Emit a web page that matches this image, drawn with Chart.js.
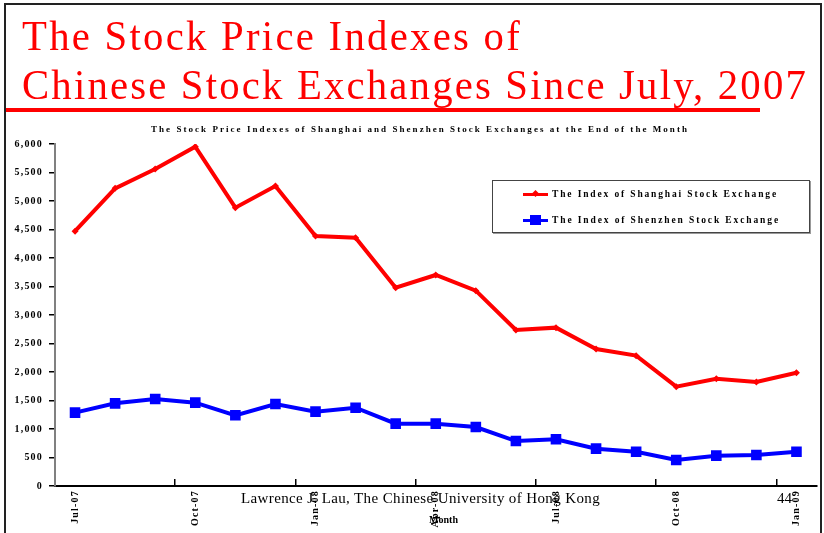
<!DOCTYPE html>
<html><head><meta charset="utf-8">
<script src="https://cdn.jsdelivr.net/npm/chart.js@4/dist/chart.umd.min.js"></script>
<style>
html,body{margin:0;padding:0;background:#fff;}
#wrap{position:relative;width:824px;height:533px;overflow:hidden;background:#fff;}
#c{position:absolute;left:0;top:0;}
.t{position:absolute;white-space:nowrap;font-family:"Liberation Serif","Times New Roman",serif;z-index:2;}
.title{color:#ff0000;font-size:42px;line-height:42px;left:22px;transform:scaleX(0.97);transform-origin:0 0;}
.bold{font-weight:bold;color:#000;}
#frame{position:absolute;left:4px;top:3px;width:818px;height:560px;border:2px solid #222;box-sizing:border-box;z-index:3;pointer-events:none;}
#uline{position:absolute;left:6px;top:108px;width:754px;height:4px;background:#ff0000;z-index:2;}
#legend{position:absolute;left:492px;top:180px;width:318px;height:53px;border:1px solid #444;box-sizing:border-box;background:#fff;z-index:2;box-shadow:1px 1px 0 #999;}
.lrow{position:absolute;left:30px;height:12px;}
.lline{position:absolute;left:0;top:5px;width:25px;height:3px;}
.lmark{position:absolute;}
</style></head>
<body><div id="wrap">
<canvas id="c" width="824" height="533"></canvas>
<div id="frame"></div>
<div class="t title" style="top:15px" data-w="500" data-s="0.97">The Stock Price Indexes of</div>
<div class="t title" style="top:64px" data-w="786" data-s="0.97">Chinese Stock Exchanges Since July, 2007</div>
<div id="uline"></div>
<div class="t bold" style="font-size:9px;line-height:10px;left:151px;top:124px" data-w="538">The Stock Price Indexes of Shanghai and Shenzhen Stock Exchanges at the End of the Month</div>
<div id="legend">
  <div class="lrow" style="top:7px">
    <div class="lline" style="background:#ff0000"></div>
    <div class="lmark" style="left:10px;top:3px;width:5px;height:5px;background:#ff0000;transform:rotate(45deg)"></div>
  </div>
  <div class="t bold" style="font-size:9.5px;line-height:10px;left:59px;top:8px" data-w="226">The Index of Shanghai Stock Exchange</div>
  <div class="lrow" style="top:33px">
    <div class="lline" style="background:#0000ff"></div>
    <div class="lmark" style="left:7px;top:1px;width:11px;height:10px;background:#0000ff"></div>
  </div>
  <div class="t bold" style="font-size:9.5px;line-height:10px;left:59px;top:34px" data-w="228">The Index of Shenzhen Stock Exchange</div>
</div>
<div class="t" style="font-size:15px;line-height:16px;left:241px;top:490px;color:#000" data-w="359">Lawrence J. Lau, The Chinese University of Hong Kong</div>
<div class="t" style="font-size:15px;line-height:16px;left:777px;top:490px;color:#000">44</div>
<div class="t bold" style="font-size:10px;line-height:10px;left:429px;top:515px" data-w="29">Month</div>
</div>
<script>
// ---- data ----
const months = ['Jul-07','Aug-07','Sep-07','Oct-07','Nov-07','Dec-07','Jan-08','Feb-08','Mar-08','Apr-08','May-08','Jun-08','Jul-08','Aug-08','Sep-08','Oct-08','Nov-08','Dec-08','Jan-09'];
const shanghai = [4471,5222,5561,5953,4883,5263,4386,4357,3480,3702,3427,2737,2778,2404,2287,1743,1883,1825,1988];
const shenzhen = [1287,1450,1526,1462,1240,1439,1304,1374,1094,1094,1035,789,819,655,602,456,532,544,602];
const yTicks = [0,500,1000,1500,2000,2500,3000,3500,4000,4500,5000,5500,6000];
const seriesNames = ['The Index of Shanghai Stock Exchange','The Index of Shenzhen Stock Exchange'];

// fit letter spacing of overlay texts to reference widths
document.querySelectorAll('[data-w]').forEach(el=>{
  const target = parseFloat(el.dataset.w);
  const s = el.dataset.s ? parseFloat(el.dataset.s) : 1;
  el.style.letterSpacing='0px';
  const w = el.getBoundingClientRect().width;
  const n = el.textContent.length;
  el.style.letterSpacing = ((target - w)/(n*s)) + 'px';
});

const serif = '"Liberation Serif","Times New Roman",serif';
const spacing = {
  id:'spacing',
  beforeDraw(chart){ chart.ctx.letterSpacing = '1.2px'; }
};

new Chart(document.getElementById('c'), {
  type:'line',
  data:{
    labels: months,
    datasets:[
      {label:seriesNames[0], data:shanghai, borderColor:'#ff0000', backgroundColor:'#ff0000', borderWidth:4,
       pointStyle:'rectRot', pointRadius:3.5, pointBorderWidth:0, tension:0},
      {label:seriesNames[1], data:shenzhen, borderColor:'#0000ff', backgroundColor:'#0000ff', borderWidth:4,
       pointStyle:'rect', pointRadius:7.5, pointBorderWidth:0, tension:0}
    ]
  },
  options:{
    responsive:false, animation:false, devicePixelRatio:1,
    layout:{padding:{top:144,right:6,left:0,bottom:0}},
    plugins:{legend:{display:false}, tooltip:{enabled:false}, title:{display:false}},
    scales:{
      x:{
        type:'category', offset:true,
        grid:{offset:true, drawOnChartArea:false, tickLength:-7, lineWidth:1.5,
              color:(ctx)=> (ctx.index!==undefined && ctx.index>0 && ctx.index%3===0) ? '#000' : 'rgba(0,0,0,0)'},
        border:{color:'#000', width:2},
        ticks:{autoSkip:false, minRotation:90, maxRotation:90, padding:11, color:'#000',
               font:{family:serif, size:10, weight:'bold'},
               callback:(v,i)=> i%3===0 ? months[i] : ''},
        afterFit:(s)=>{ s.height = 47; }
      },
      y:{
        min:0, max:6000,
        afterBuildTicks:(s)=>{ s.ticks = yTicks.map(v=>({value:v})); },
        grid:{drawOnChartArea:false, tickLength:6, color:'#000', lineWidth:1.5},
        border:{color:'#808080', width:2},
        ticks:{padding:6, color:'#000', font:{family:serif, size:10, weight:'bold'},
               callback:(v)=> Number(v).toLocaleString('en-US')},
        afterFit:(s)=>{ s.width = 55; }
      }
    }
  },
  plugins:[spacing]
});
</script>
</body></html>
